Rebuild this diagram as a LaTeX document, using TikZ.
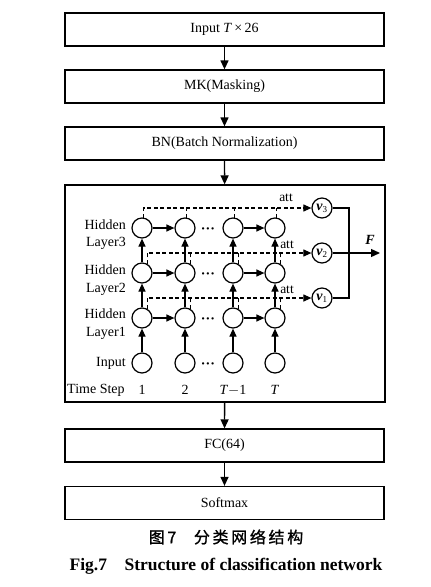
\documentclass[tikz,border=0pt]{standalone}
\usepackage{fontspec}
\setmainfont{Liberation Serif}
\newfontfamily\cjk[FakeBold=1.2]{Noto Sans CJK SC}
\usetikzlibrary{arrows.meta}
\begin{document}
\begin{tikzpicture}[x=1pt,y=-1pt,
  every node/.style={font=\fontsize{14}{16}\selectfont},
  blk/.style={draw,line width=1.3pt,minimum width=319pt,minimum height=33pt,inner sep=0pt},
  cell/.style={draw,circle,line width=1.2pt,minimum size=20pt,inner sep=0pt},
  arr/.style={line width=1.3pt,-{Triangle[length=9pt,width=8pt]}},
  sarr/.style={line width=1.2pt,-{Triangle[length=8pt,width=7pt]}},
  dsh/.style={line width=1.1pt,dash pattern=on 4pt off 2.5pt},
  lbl/.style={anchor=east,inner sep=0pt},
  dts/.style={font=\bfseries\fontsize{14}{16}\selectfont},
  attl/.style={font=\fontsize{13.5}{15}\selectfont,inner sep=0pt}]
\useasboundingbox (0,0) rectangle (431,587);
% main blocks
\node[blk] (inp) at (224.5,29.5) {Input \textit{T}\,×\,26};
\node[blk] (mk) at (224.5,86.5) {MK(Masking)};
\node[blk] (bn) at (224.5,143.5) {BN(Batch Normalization)};
\node[draw,line width=1.3pt,minimum width=320pt,minimum height=217pt,inner sep=0pt] (big) at (225,293.5) {};
\node[blk] (fc) at (224.5,445.5) {FC(64)};
\node[blk] (sm) at (224.5,503) {Softmax};
\draw[arr] (inp) -- (mk);
\draw[arr] (mk) -- (bn);
\draw[arr] (bn) -- (big);
\draw[arr] (big) -- (fc);
\draw[arr] (fc) -- (sm);
% cells
\foreach \c/\x in {1/142,2/185,3/233,4/275}{
  \node[cell] (h3\c) at (\x,228) {};
  \node[cell] (h2\c) at (\x,273) {};
  \node[cell] (h1\c) at (\x,318) {};
  \node[cell] (in\c) at (\x,363) {};
  \draw[sarr] (in\c) -- (h1\c);
  \draw[sarr] (h1\c) -- (h2\c);
  \draw[sarr] (h2\c) -- (h3\c);
}
\foreach \r/\y in {3/228,2/273,1/318}{
  \draw[sarr] (h\r1) -- (h\r2);
  \draw[sarr] (h\r3) -- (h\r4);
  \node[dts] (dots\r) at (208,\y+3) {···};
}
\node[dts] (dotsin) at (208,366) {···};
% v nodes
\node[cell] (v3) at (322,208) {\textbf{\textit{v}}\textsubscript{\fontsize{9}{10}\selectfont 3}};
\node[cell] (v2) at (322,253) {\textbf{\textit{v}}\textsubscript{\fontsize{9}{10}\selectfont 2}};
\node[cell] (v1) at (322,298) {\textbf{\textit{v}}\textsubscript{\fontsize{9}{10}\selectfont 1}};
% attention dashed lines
\coordinate (t3) at (h31.80 |- v3);
\coordinate (t2) at (h21.60 |- v2);
\coordinate (t1) at (h11.60 |- v1);
\draw[dsh,-{Triangle[length=8pt,width=7pt]}] (h31.80) -- (t3) -- (v3);
\draw[dsh,-{Triangle[length=8pt,width=7pt]}] (h21.60) -- (t2) -- (v2);
\draw[dsh,-{Triangle[length=8pt,width=7pt]}] (h11.60) -- (t1) -- (v1);
\foreach \c in {2,3,4}{
  \draw[dsh] (h3\c.80) -- (h3\c.80 |- v3);
  \draw[dsh] (h2\c.60) -- (h2\c.60 |- v2);
  \draw[dsh] (h1\c.60) -- (h1\c.60 |- v1);
}
\node[attl] (att3) at (286,198) {att};
\node[attl] (att2) at (287,245) {att};
\node[attl] (att1) at (287,290) {att};
% collector
\coordinate (cv3) at (349,208);
\coordinate (cv1) at (349,298);
\coordinate (fend) at (380,253);
\draw[line width=1.2pt] (v3) -- (cv3) -- (cv1) -- (v1);
\draw[arr] (v2) -- (fend);
\node (F) at (370,240) {\textbf{\textit{F}}};
% labels
\node[lbl] (hl3a) at (126,225) {Hidden};
\node[lbl] (hl3b) at (126,243) {Layer3};
\node[lbl] (hl2a) at (126,270) {Hidden};
\node[lbl] (hl2b) at (126,289) {Layer2};
\node[lbl] (hl1a) at (126,314) {Hidden};
\node[lbl] (hl1b) at (126,333) {Layer1};
\node[lbl] (inl) at (126,363) {Input};
\node[anchor=west,inner sep=0pt] (ts) at (67,390) {Time Step};
\node (ts1) at (142,390) {1};
\node (ts2) at (185,390) {2};
\node (ts3) at (233,390) {\textit{T}$-$1};
\node (ts4) at (275,390) {\textit{T}};
% captions
\node (cap1) at (226,537) {\cjk\fontsize{16}{18}\selectfont 图\,7\hspace{1.1em}分\,类\,网\,络\,结\,构};
\node (cap2) at (226,566) {\bfseries\fontsize{17.5}{20}\selectfont Fig.7\hspace{1.0em}Structure of classification network};
\end{tikzpicture}
\end{document}
